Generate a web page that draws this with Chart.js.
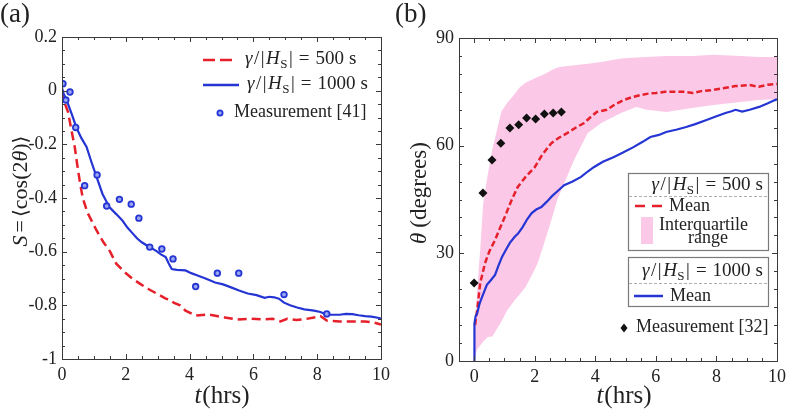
<!DOCTYPE html>
<html>
<head>
<meta charset="utf-8">
<script src="https://cdn.jsdelivr.net/npm/chart.js@4/dist/chart.umd.min.js"></script>
<style>
  html, body { margin: 0; padding: 0; background: #fff; }
  #wrap { position: relative; width: 791px; height: 412px; }
  #boxA { position: absolute; left: 0; top: 0; width: 395px; height: 412px; }
  #boxB { position: absolute; left: 395px; top: 0; width: 396px; height: 412px; }
</style>
</head>
<body>
<div id="wrap">
  <div id="boxA"><canvas id="chartA" width="395" height="412"></canvas></div>
  <div id="boxB"><canvas id="chartB" width="396" height="412"></canvas></div>
</div>
<script>
// ---- panel (a): order parameter S ----
const redT_a = [0, 0.09, 0.19, 0.3, 0.4, 0.47, 0.56, 0.65, 0.8, 0.95, 1.08, 1.3, 1.5, 1.7, 1.95, 2.2, 2.45, 2.72, 3.0, 3.25,
  3.4, 3.5, 3.7, 3.87, 4.05, 4.18, 4.4, 4.58, 4.85, 5.1, 5.5, 5.9, 6.3, 6.6, 6.85, 7.06, 7.35, 7.6, 7.9, 8.1,
  8.3, 8.7, 9.1, 9.5, 9.8, 10];
const redS_a = [0, -0.048, -0.08, -0.15, -0.21, -0.27, -0.34, -0.40, -0.455, -0.49, -0.52, -0.565, -0.598, -0.645, -0.675, -0.70, -0.72, -0.74, -0.758, -0.775,
  -0.78, -0.79, -0.80, -0.82, -0.83, -0.838, -0.836, -0.834, -0.84, -0.845, -0.853, -0.85, -0.852, -0.85, -0.86, -0.85, -0.855, -0.852, -0.845, -0.84,
  -0.857, -0.86, -0.86, -0.86, -0.865, -0.872];

const blueT_a = [0, 0.05, 0.15, 0.3, 0.46, 0.6, 0.77, 0.92, 1.08, 1.27, 1.49, 1.7, 1.9, 2.05, 2.2, 2.35, 2.5, 2.7, 2.94, 3.1,
  3.25, 3.35, 3.44, 3.6, 3.87, 4.05, 4.27, 4.5, 4.8, 5.05, 5.3, 5.55, 5.82, 6.1, 6.35, 6.5, 6.65, 6.8, 6.96, 7.15,
  7.37, 7.6, 7.9, 8.1, 8.3, 8.5, 8.7, 8.9, 9.1, 9.3, 9.5, 9.7, 9.94, 10];
const blueS_a = [0.01, -0.01, -0.037, -0.086, -0.14, -0.175, -0.21, -0.265, -0.32, -0.385, -0.435, -0.46, -0.485, -0.51, -0.53, -0.55, -0.565, -0.58, -0.596, -0.61,
  -0.62, -0.645, -0.665, -0.668, -0.67, -0.68, -0.69, -0.70, -0.715, -0.722, -0.733, -0.745, -0.756, -0.762, -0.772, -0.768, -0.77, -0.775, -0.79, -0.80,
  -0.808, -0.815, -0.82, -0.825, -0.835, -0.835, -0.835, -0.832, -0.833, -0.837, -0.84, -0.842, -0.847, -0.85];

const measT_a = [0.03, 0.12, 0.25, 0.43, 0.71, 1.1, 1.4, 1.8, 2.17, 2.41, 2.75, 3.13, 3.48, 4.19, 4.87, 5.54, 6.96, 8.3];
const measS_a = [0.026, -0.035, -0.005, -0.137, -0.354, -0.314, -0.43, -0.405, -0.423, -0.475, -0.583, -0.59, -0.627, -0.73, -0.68, -0.68, -0.76, -0.832];

// ---- panel (b): angle theta ----
const bandT = [0, 0.1, 0.2, 0.3, 0.45, 0.6, 0.9, 1.1, 1.3, 1.5, 1.7, 2.0, 2.1, 2.3, 2.55, 2.75, 3.0, 3.3, 3.75, 4.2,
  4.85, 5.35, 5.7, 6.35, 7.2, 7.9, 8.8, 9.4, 10];
const bandUpper = [3, 20, 31, 44, 52, 59, 69.5, 72, 74, 76.2, 77.5, 78.8, 79.1, 79.8, 81, 81.8, 82.1, 82.4, 82.8, 83.3,
  84.3, 84.6, 84.7, 85, 85, 85.3, 85, 84.7, 84.7];
const bandLower = [0, 3.3, 4.3, 5.4, 6.7, 6.8, 11, 14.2, 16.5, 18.5, 20.6, 25.5, 27.3, 32.5, 39.3, 45, 50, 56, 63.5, 66.3,
  69.1, 70.8, 70, 69.4, 70.5, 71.3, 72.2, 72.7, 73];

const redT_b = [0.03, 0.1, 0.2, 0.36, 0.5, 0.69, 0.85, 1.01, 1.24, 1.44, 1.7, 2.0, 2.25, 2.55, 2.8, 3.07, 3.35, 3.63, 3.85, 4.05,
  4.38, 4.65, 4.93, 5.2, 5.49, 5.75, 6.01, 6.3, 6.66, 6.95, 7.22, 7.5, 7.88, 8.2, 8.63, 9.1, 9.4, 9.7, 10];
const redTh_b = [10, 14.2, 21.7, 27.3, 30.5, 33.7, 37, 40.1, 44.9, 48.5, 51.3, 54, 57.5, 60.7, 62.2, 63.5, 65, 66.3, 68, 69.4,
  70, 71.5, 72.7, 73.5, 74.1, 74.5, 74.7, 75, 75, 75, 74.7, 75.2, 75.5, 76, 76.6, 76.9, 76.4, 77, 77.2];

const blueT_b = [0, 0, 0.02, 0.05, 0.1, 0.18, 0.26, 0.42, 0.55, 0.69, 0.8, 0.92, 1.05, 1.18, 1.34, 1.45, 1.6, 1.75, 1.9, 2.05,
  2.22, 2.4, 2.58, 2.75, 2.97, 3.25, 3.53, 3.75, 3.95, 4.25, 4.6, 4.9, 5.26, 5.55, 5.82, 6.1, 6.34, 6.7, 7.0, 7.3,
  7.65, 8.0, 8.3, 8.5, 8.63, 8.85, 9.1, 9.41, 9.7, 9.93, 10];
const blueTh_b = [0, 7.8, 10.5, 12.5, 13.3, 16, 17.8, 21.2, 22.5, 24, 26.5, 29, 31, 32.9, 34.6, 35.5, 37.3, 39.5, 41.2, 42.2,
  42.9, 44.4, 46, 47.3, 49, 50, 51.3, 52.8, 54, 55.5, 56.8, 58, 59.6, 61, 62.4, 63, 63.8, 64.5, 65.2, 66,
  67.1, 68.2, 69.1, 69.6, 70, 69.5, 70, 70.8, 71.8, 72.7, 72.9];

const measT_b = [0, 0.29, 0.59, 0.88, 1.18, 1.47, 1.73, 2.03, 2.32, 2.61, 2.88];
const measTh_b = [21.7, 46.8, 56, 60.7, 64.9, 65.8, 67.7, 67.4, 68.8, 69.1, 69.4];

// ---- styling ----
const SERIF = '"Liberation Serif", "DejaVu Serif", serif';
const R = n => n + 'px ' + SERIF;
const I = n => 'italic ' + n + 'px ' + SERIF;
const RED = '#e5202b';
const BLUE = '#2535d4';
const PINK = 'rgb(251, 201, 231)';
const INK = '#222';

const pts = (xs, ys) => xs.map((x, i) => ({ x: x, y: ys[i] }));
const isMajor = (v, m) => Math.abs(v / m - Math.round(v / m)) < 1e-6;

function richWidth(ctx, parts) {
  let w = 0;
  parts.forEach(p => { ctx.font = p.f; w += ctx.measureText(p.t).width + (p.sp || 0); });
  return w;
}
function drawRich(ctx, parts, x, y, align) {
  const w = richWidth(ctx, parts);
  let cx = align === 'center' ? x - w / 2 : align === 'right' ? x - w : x;
  ctx.textAlign = 'left';
  ctx.textBaseline = 'alphabetic';
  parts.forEach(p => {
    ctx.font = p.f;
    ctx.fillText(p.t, cx, y + (p.dy || 0));
    cx += ctx.measureText(p.t).width + (p.sp || 0);
  });
}
function gammaText(val, n) {
  return [
    { t: 'γ', f: I(n), sp: 1.5 },
    { t: '/', f: R(n), sp: 1.5 },
    { t: '|', f: R(n), sp: 1.5 },
    { t: 'H', f: I(n), sp: 0.5 },
    { t: 'S', f: R(Math.round(n * 0.7)), dy: 4, sp: 1.5 },
    { t: '|', f: R(n), sp: 6 },
    { t: '=', f: R(n), sp: 6 },
    { t: val, f: R(n), sp: 5 },
    { t: 's', f: R(n) }
  ];
}

// inward minor/major ticks on all four sides plus the box
function frameTicks(xMajor, yMajor) {
  return {
    id: 'frameTicks',
    afterDatasetsDraw(chart) {
      const { ctx, chartArea: a, scales: { x, y } } = chart;
      ctx.save();
      ctx.strokeStyle = '#3a3a3a';
      ctx.lineWidth = 1;
      ctx.beginPath();
      x.ticks.forEach(t => {
        const px = Math.round(x.getPixelForValue(t.value)) + 0.5;
        const len = isMajor(t.value, xMajor) ? 5 : 3;
        ctx.moveTo(px, a.bottom); ctx.lineTo(px, a.bottom - len);
        ctx.moveTo(px, a.top); ctx.lineTo(px, a.top + len);
      });
      y.ticks.forEach(t => {
        const py = Math.round(y.getPixelForValue(t.value)) + 0.5;
        const len = isMajor(t.value, yMajor) ? 5 : 3;
        ctx.moveTo(a.left, py); ctx.lineTo(a.left + len, py);
        ctx.moveTo(a.right, py); ctx.lineTo(a.right - len, py);
      });
      ctx.stroke();
      ctx.strokeRect(Math.round(a.left) + 0.5, Math.round(a.top) + 0.5, Math.round(a.width), Math.round(a.height));
      ctx.restore();
    }
  };
}

function axis(min, max, step, major, fmt, fit) {
  return {
    type: 'linear', min: min, max: max,
    grid: { display: false, drawTicks: false },
    border: { display: false },
    ticks: {
      stepSize: step, autoSkip: false, maxTicksLimit: 1000, padding: 5, color: INK,
      maxRotation: 0, minRotation: 0,
      font: { family: SERIF, size: 18 },
      callback: v => isMajor(v, major) ? fmt(v) : ''
    },
    afterFit: fit
  };
}

const fmtNum = v => { const r = Math.round(v * 10) / 10; return r === 0 ? '0' : String(r); };

// ---- chart (a) ----
const decorA = {
  id: 'decorA',
  afterDraw(chart) {
    const ctx = chart.ctx;
    ctx.save();
    ctx.fillStyle = INK;
    drawRich(ctx, [{ t: '(a)', f: R(27) }], 0, 22, 'left');
    drawRich(ctx, [{ t: 't', f: I(25), sp: 1 }, { t: '(hrs)', f: R(25) }], 222, 403, 'center');
    ctx.save();
    ctx.translate(27, 191);
    ctx.rotate(-Math.PI / 2);
    drawRich(ctx, [
      { t: 'S', f: I(22), sp: 3 }, { t: '=', f: R(22), sp: 3 },
      { t: '⟨', f: R(20) }, { t: 'cos(2', f: R(22) }, { t: 'θ', f: I(22) }, { t: ')', f: R(22) }, { t: '⟩', f: R(20) }
    ], 0, 0, 'center');
    ctx.restore();

    // legend
    ctx.lineWidth = 2.5;
    ctx.strokeStyle = RED;
    ctx.setLineDash([12, 5]);
    ctx.beginPath(); ctx.moveTo(203, 60); ctx.lineTo(232, 60); ctx.stroke();
    ctx.setLineDash([]);
    ctx.strokeStyle = BLUE;
    ctx.beginPath(); ctx.moveTo(203, 85); ctx.lineTo(239, 85); ctx.stroke();
    ctx.lineWidth = 1.8;
    ctx.fillStyle = '#9aa6f2';
    ctx.beginPath(); ctx.arc(220, 113, 2.6, 0, Math.PI * 2); ctx.fill(); ctx.stroke();
    ctx.fillStyle = INK;
    drawRich(ctx, gammaText('500', 19), 245, 64, 'left');
    drawRich(ctx, gammaText('1000', 19), 247, 89, 'left');
    drawRich(ctx, [{ t: 'Measurement [41]', f: R(18) }], 234, 117, 'left');
    ctx.restore();
  }
};

new Chart(document.getElementById('chartA'), {
  type: 'line',
  data: {
    datasets: [
      { label: 'Measurement [41]', data: pts(measT_a, measS_a), showLine: false,
        pointStyle: 'circle', pointRadius: 2.8, borderWidth: 1.8,
        pointBorderColor: BLUE, pointBackgroundColor: '#9aa6f2' },
      { label: 'γ/|Hs| = 1000 s', data: pts(blueT_a, blueS_a), borderColor: BLUE, borderWidth: 2.2,
        pointRadius: 0, fill: false, tension: 0 },
      { label: 'γ/|Hs| = 500 s', data: pts(redT_a, redS_a), borderColor: RED, borderWidth: 2.5,
        borderDash: [9, 5], pointRadius: 0, fill: false, tension: 0 }
    ]
  },
  options: {
    responsive: false,
    animation: false,
    devicePixelRatio: 1,
    layout: { padding: { top: 37, right: 10, left: 0, bottom: 0 } },
    plugins: { legend: { display: false }, tooltip: { enabled: false } },
    scales: {
      x: axis(0, 10, 0.5, 2, v => String(Math.round(v)), s => { s.height = 53; }),
      y: axis(-1, 0.2, 0.05, 0.2, fmtNum, s => { s.width = 62; })
    }
  },
  plugins: [frameTicks(2, 0.2), decorA]
});

// ---- chart (b) ----
const decorB = {
  id: 'decorB',
  afterDraw(chart) {
    const ctx = chart.ctx;
    ctx.save();
    ctx.fillStyle = INK;
    drawRich(ctx, [{ t: '(b)', f: R(27) }], 0, 22, 'left');
    drawRich(ctx, [{ t: 't', f: I(25), sp: 1 }, { t: '(hrs)', f: R(25) }], 229, 403, 'center');
    ctx.save();
    ctx.translate(31, 193);
    ctx.rotate(-Math.PI / 2);
    drawRich(ctx, [{ t: 'θ', f: I(23), sp: 5 }, { t: '(degrees)', f: R(23) }], 0, 0, 'center');
    ctx.restore();

    // legend boxes
    ctx.fillStyle = '#fff';
    ctx.strokeStyle = '#7a7a7a';
    ctx.lineWidth = 1.2;
    ctx.fillRect(233, 173, 140, 77); ctx.strokeRect(233.5, 173.5, 140, 77);
    ctx.fillRect(233, 257, 140, 49); ctx.strokeRect(233.5, 257.5, 140, 49);
    ctx.strokeStyle = '#9a9a9a';
    ctx.lineWidth = 0.8;
    ctx.setLineDash([3, 2]);
    ctx.beginPath();
    ctx.moveTo(234, 196.5); ctx.lineTo(373, 196.5);
    ctx.moveTo(234, 283.5); ctx.lineTo(373, 283.5);
    ctx.stroke();
    ctx.lineWidth = 2.5;
    ctx.strokeStyle = RED;
    ctx.setLineDash([10, 7]);
    ctx.beginPath(); ctx.moveTo(240, 206); ctx.lineTo(267, 206); ctx.stroke();
    ctx.setLineDash([]);
    ctx.strokeStyle = BLUE;
    ctx.beginPath(); ctx.moveTo(239, 296); ctx.lineTo(268, 296); ctx.stroke();
    ctx.fillStyle = PINK;
    ctx.fillRect(246, 217, 12, 27);
    ctx.fillStyle = '#111';
    ctx.beginPath();
    ctx.moveTo(229, 323.5); ctx.lineTo(232.5, 328); ctx.lineTo(229, 332.5); ctx.lineTo(225.5, 328); ctx.closePath();
    ctx.fill();

    ctx.fillStyle = INK;
    drawRich(ctx, gammaText('500', 19), 368, 190, 'right');
    drawRich(ctx, [{ t: 'Mean', f: R(18) }], 274, 211, 'left');
    drawRich(ctx, [{ t: 'Interquartile', f: R(18) }], 264, 230, 'left');
    drawRich(ctx, [{ t: 'range', f: R(18) }], 313, 243, 'center');
    drawRich(ctx, gammaText('1000', 19), 368, 276, 'right');
    drawRich(ctx, [{ t: 'Mean', f: R(18) }], 275, 301, 'left');
    drawRich(ctx, [{ t: 'Measurement [32]', f: R(18) }], 241, 332, 'left');
    ctx.restore();
  }
};

new Chart(document.getElementById('chartB'), {
  type: 'line',
  data: {
    datasets: [
      { label: 'Measurement [32]', data: pts(measT_b, measTh_b), showLine: false,
        pointStyle: 'rectRot', pointRadius: 4.5, borderWidth: 0,
        pointBorderColor: '#111', pointBackgroundColor: '#111' },
      { label: 'Mean 1000 s', data: pts(blueT_b, blueTh_b), borderColor: BLUE, borderWidth: 2.2,
        pointRadius: 0, fill: false, tension: 0 },
      { label: 'Mean 500 s', data: pts(redT_b, redTh_b), borderColor: RED, borderWidth: 2.5,
        borderDash: [6, 3], pointRadius: 0, fill: false, tension: 0 },
      { label: 'IQR upper', data: pts(bandT, bandUpper), borderWidth: 0, borderColor: 'rgba(0,0,0,0)',
        pointRadius: 0, fill: false, tension: 0 },
      { label: 'Interquartile range', data: pts(bandT, bandLower), borderWidth: 0, borderColor: 'rgba(0,0,0,0)',
        backgroundColor: PINK, pointRadius: 0, fill: '-1', tension: 0 }
    ]
  },
  options: {
    responsive: false,
    animation: false,
    devicePixelRatio: 1,
    layout: { padding: { top: 38, right: 9, left: 0, bottom: 0 } },
    plugins: { legend: { display: false }, tooltip: { enabled: false } },
    scales: {
      x: axis(-0.5, 10, 0.5, 2, v => String(Math.round(v)), s => { s.height = 51; }),
      y: axis(0, 90, 5, 30, v => String(Math.round(v)), s => { s.width = 64; })
    }
  },
  plugins: [frameTicks(2, 30), decorB]
});
</script>
</body>
</html>
